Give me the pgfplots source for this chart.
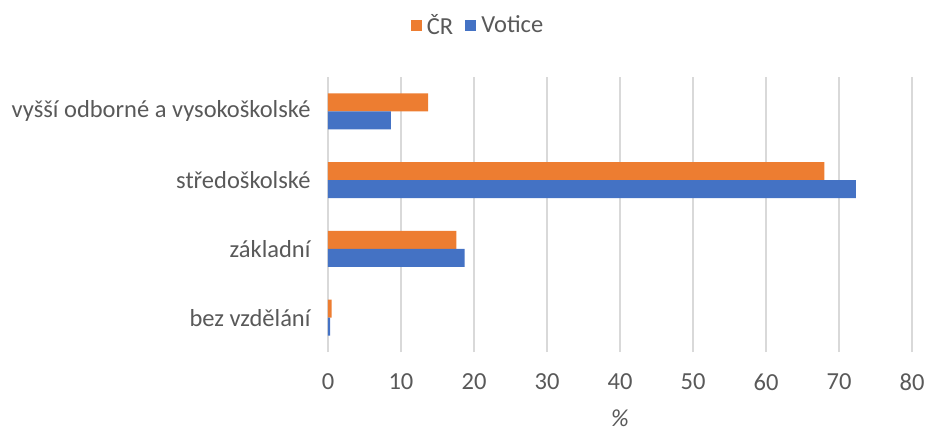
\documentclass[border=0pt]{standalone}
\usepackage{pgfplots}
\pgfplotsset{compat=1.18}
\usepackage{fontspec}
\setmainfont{Carlito}
\definecolor{cr}{HTML}{ED7D31}
\definecolor{vo}{HTML}{4472C4}
\definecolor{txt}{HTML}{595959}
\definecolor{grd}{HTML}{D9D9D9}
\begin{document}
\begin{tikzpicture}[x=1bp,y=1bp]
\begin{axis}[
 at={(0,0)}, anchor=south west,
 scale only axis, width=584bp, height=275bp,
 xmin=0, xmax=80, ymin=-0.5, ymax=3.5,
 xtick={0,10,...,80}, ytick={0,1,2,3},
 yticklabels={bez vzdělání, základní, středoškolské, vyšší odborné a vysokoškolské},
 xmajorgrids, grid style={grd, line width=1.3bp},
 axis line style={draw=none},
 tick style={draw=none},
 ticklabel style={text=txt, font=\fontsize{24.5bp}{28bp}\selectfont},
 /pgf/number format/assume math mode=true,
 xticklabel style={yshift=-18bp},
 yticklabel style={xshift=-14bp},
 xlabel={\textit{\%}},
 xlabel style={text=txt, font=\fontsize{24.5bp}{28bp}\selectfont, at={(axis description cs:0.5,0)}, anchor=center, yshift=-66bp},
 legend columns=2,
 legend style={at={(axis description cs:0.257,1.189)}, anchor=center, draw=none, fill=none, text=txt, font=\fontsize{24.5bp}{28bp}\selectfont, /tikz/every odd column/.append style={column sep=3bp}, /tikz/every even column/.append style={column sep=0bp}},
 legend image code/.code={\fill[#1] (0bp,-5.5bp) rectangle (11bp,5.5bp);},
]
\addplot[xbar, bar width=18bp, bar shift=9bp, fill=cr, draw=none] coordinates {(0.5,0) (17.6,1) (68.0,2) (13.7,3)};
\addlegendentry{ČR\rule{10bp}{0pt}}
\addplot[xbar, bar width=18bp, bar shift=-9bp, fill=vo, draw=none] coordinates {(0.3,0) (18.7,1) (72.3,2) (8.6,3)};
\addlegendentry{Votice}
\end{axis}
\pgfresetboundingbox
\useasboundingbox (-328,-80) rectangle (597,352);
\end{tikzpicture}
\end{document}
